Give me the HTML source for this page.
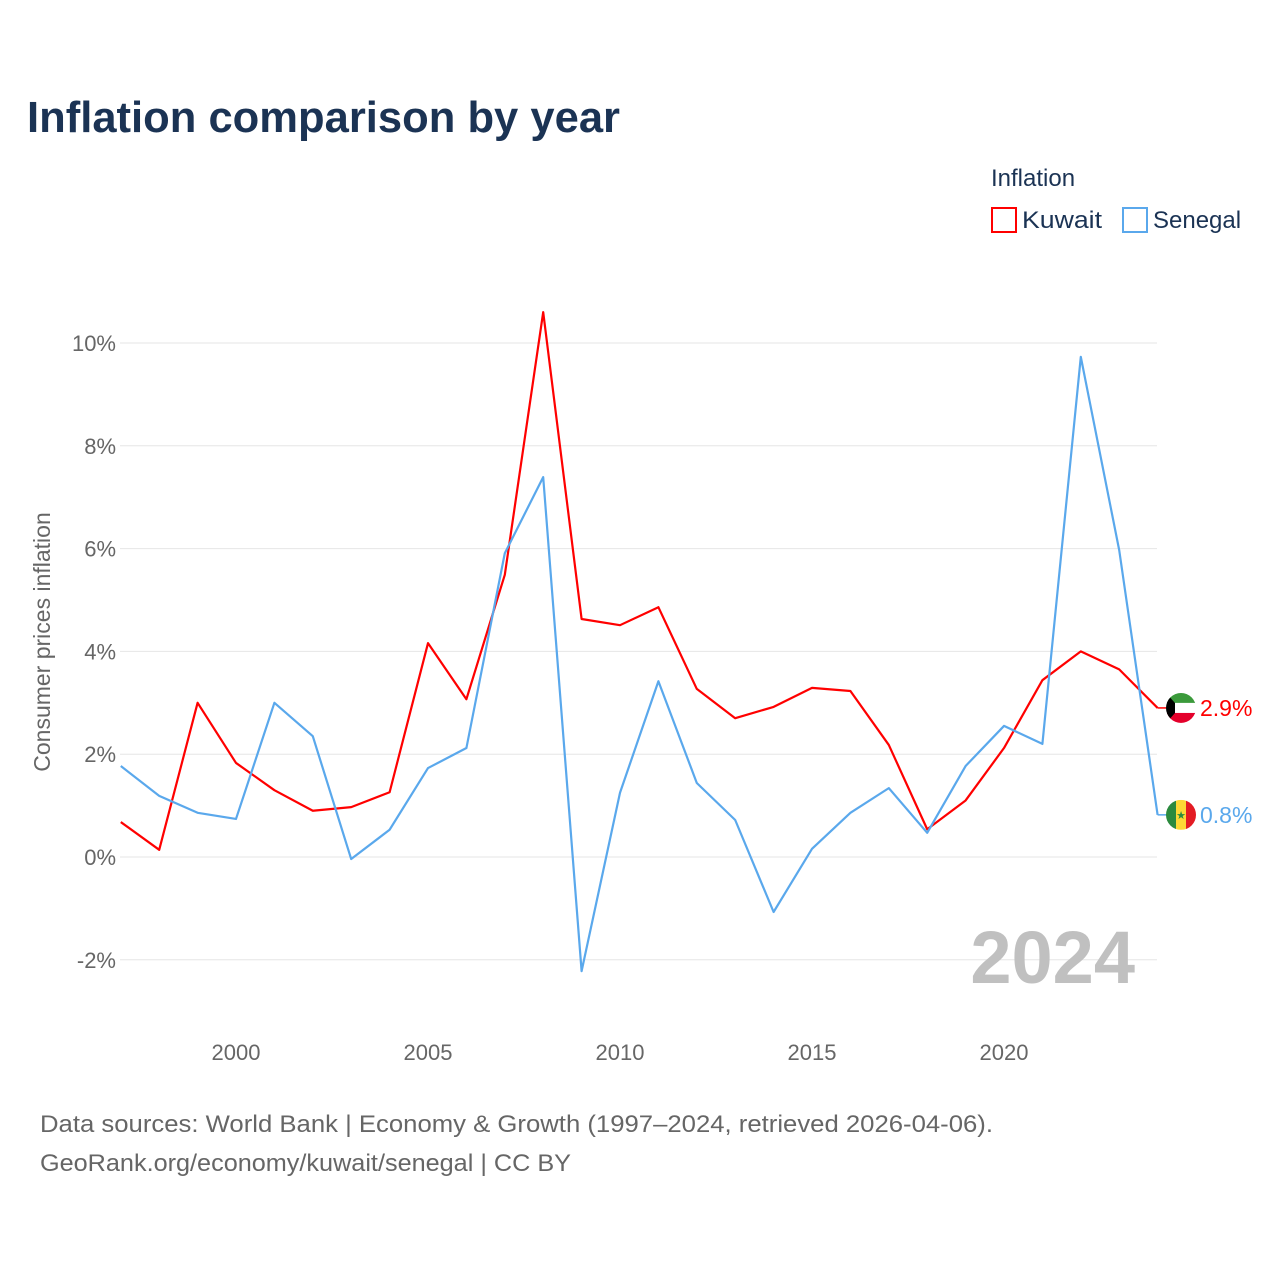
<!DOCTYPE html>
<html><head><meta charset="utf-8"><style>
body{margin:0;background:#fff;font-family:"Liberation Sans",sans-serif;}
svg text{font-family:"Liberation Sans",sans-serif;}
</style></head><body>
<svg id="chart" width="1280" height="1280" viewBox="0 0 1280 1280">
<text x="27" y="132" font-size="44" font-weight="bold" fill="#1b3354" textLength="593" lengthAdjust="spacingAndGlyphs">Inflation comparison by year</text>
<text x="991" y="186" font-size="24" fill="#1b3354">Inflation</text>
<g><rect x="992" y="208" width="24" height="24" fill="none" stroke="#f00" stroke-width="2"/><text x="1022" y="228" font-size="24" fill="#1b3354" textLength="80" lengthAdjust="spacingAndGlyphs">Kuwait</text></g>
<g><rect x="1123" y="208" width="24" height="24" fill="none" stroke="#5aa8ec" stroke-width="2"/><text x="1153" y="228" font-size="24" fill="#1b3354">Senegal</text></g>
<text transform="translate(50,642) rotate(-90)" text-anchor="middle" font-size="23" fill="#666">Consumer prices inflation</text>
<g id="grid"></g><g id="xt"></g><g id="lines"></g>
<text x="1135" y="983" text-anchor="end" font-size="74" font-weight="bold" fill="#c0c0c0">2024</text>
<text x="40" y="1132" font-size="24" fill="#666" textLength="953" lengthAdjust="spacingAndGlyphs">Data sources: World Bank | Economy &amp; Growth (1997–2024, retrieved 2026-04-06).</text>
<text x="40" y="1171" font-size="24" fill="#666" textLength="531" lengthAdjust="spacingAndGlyphs">GeoRank.org/economy/kuwait/senegal | CC BY</text>
</svg>
<script>
const years=[1997,1998,1999,2000,2001,2002,2003,2004,2005,2006,2007,2008,2009,2010,2011,2012,2013,2014,2015,2016,2017,2018,2019,2020,2021,2022,2023,2024];
const kuwait=[0.68,0.14,3.0,1.83,1.3,0.9,0.97,1.26,4.16,3.07,5.49,10.6,4.63,4.51,4.86,3.27,2.7,2.92,3.29,3.23,2.18,0.54,1.1,2.12,3.44,4.0,3.65,2.9];
const senegal=[1.77,1.19,0.86,0.74,3.0,2.35,-0.04,0.53,1.73,2.12,5.91,7.39,-2.22,1.25,3.42,1.44,0.72,-1.07,0.16,0.86,1.34,0.47,1.77,2.55,2.2,9.73,5.97,0.82];
const yTicks=[-2,0,2,4,6,8,10];
const xTicks=[2000,2005,2010,2015,2020];
const NS="http://www.w3.org/2000/svg";
const X=y=>236+(y-2000)*38.4, Y=v=>857-v*51.4;
function mk(t,a,p){const e=document.createElementNS(NS,t);for(const k in a)e.setAttribute(k,a[k]);p.appendChild(e);return e;}
const g=document.getElementById('grid');
yTicks.forEach(v=>{
 const l=mk('line',{x1:120,x2:1157,y1:Y(v),y2:Y(v),stroke:'#e6e6e6','stroke-width':1},g);
 
 
 const t=mk('text',{x:116,y:Y(v)+8,'text-anchor':'end','font-size':22,fill:'#666'},g);t.textContent=v+'%';
 
 
});
const xt=document.getElementById('xt');
xTicks.forEach(v=>{const t=mk('text',{x:X(v),y:1060,'text-anchor':'middle','font-size':22,fill:'#666'},xt);t.textContent=v;
 
 });
const L=document.getElementById('lines');
function series(d,c,name,flag){
 const pts=d.map((v,i)=>X(years[i])+','+Y(v)).join(' ');
 const p=mk('polyline',{points:pts,fill:'none',stroke:c,'stroke-width':2.2,'stroke-linejoin':'round'},L);
 
 
 const last=d[d.length-1],yy=Y(last);
 mk('line',{x1:X(2024),x2:1167,y1:yy,y2:yy,stroke:c,'stroke-width':1.5},L);
 const fg=mk('g',{},L);
 
 
 flag(fg,1181,yy);
 const t=mk('text',{x:1200,y:yy+8,'font-size':23,fill:c},L);t.textContent=last.toFixed(1)+'%';
 
 
}
function kwFlag(p,cx,cy){
 const id='ck';mk('clipPath',{id},p);mk('circle',{cx,cy,r:15},p.lastChild);
 const gg=mk('g',{'clip-path':'url(#ck)'},p);
 mk('rect',{x:cx-15,y:cy-15,width:30,height:10,fill:'#3b9a3b'},gg);
 mk('rect',{x:cx-15,y:cy-5,width:30,height:10,fill:'#fff'},gg);
 mk('rect',{x:cx-15,y:cy+5,width:30,height:10,fill:'#e4002b'},gg);
 mk('polygon',{points:`${cx-15},${cy-15} ${cx-6},${cy-5} ${cx-6},${cy+5} ${cx-15},${cy+15}`,fill:'#000'},gg);
}
function snFlag(p,cx,cy){
 const id='cs';mk('clipPath',{id},p);mk('circle',{cx,cy,r:15},p.lastChild);
 const gg=mk('g',{'clip-path':'url(#cs)'},p);
 mk('rect',{x:cx-15,y:cy-15,width:10,height:30,fill:'#2b8a3e'},gg);
 mk('rect',{x:cx-5,y:cy-15,width:10,height:30,fill:'#fdd835'},gg);
 mk('rect',{x:cx+5,y:cy-15,width:10,height:30,fill:'#e31b23'},gg);
 const s=mk('text',{x:cx,y:cy+4,'text-anchor':'middle','font-size':11,fill:'#2b8a3e'},gg);s.textContent='★';
}
series(kuwait,'#ff0000','kuwait',kwFlag);
series(senegal,'#5aa8ec','senegal',snFlag);
</script>
</body></html>
